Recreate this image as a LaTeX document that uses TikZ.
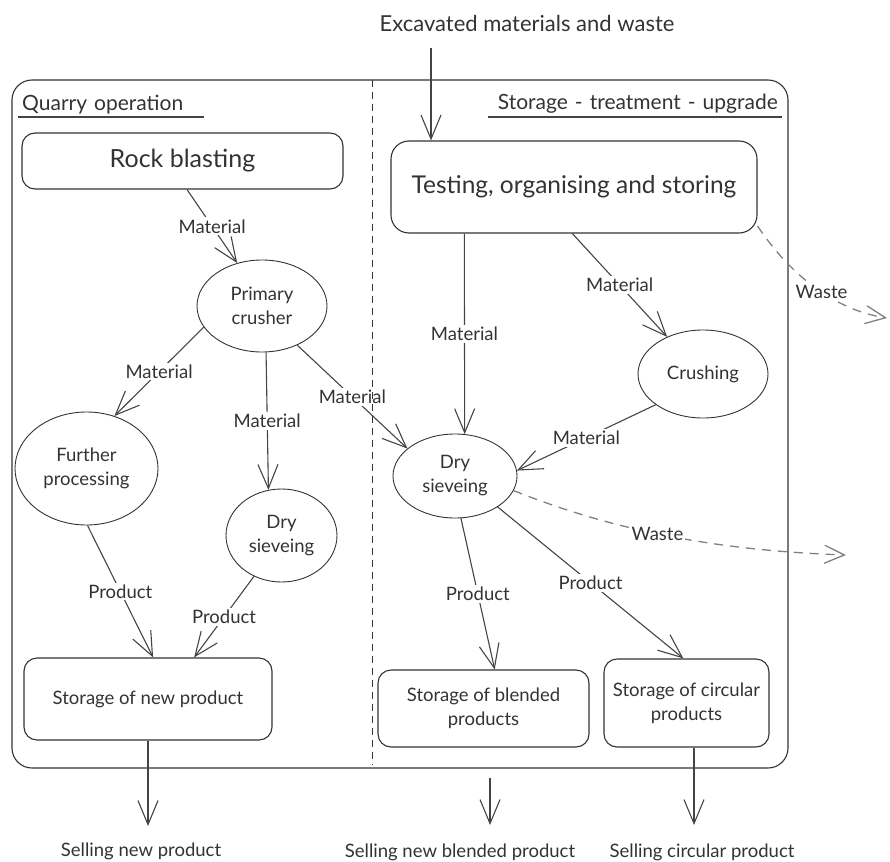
\documentclass[tikz,border=0pt]{standalone}
\usepackage{fontspec}
\setmainfont{Lato}
\usetikzlibrary{arrows.meta,shapes.geometric}
\definecolor{ink}{HTML}{333333}
\definecolor{edge}{HTML}{444444}
\definecolor{wastegray}{HTML}{808080}

\begin{document}
\begin{tikzpicture}
[x=1pt,y=-1pt,
box/.style={draw=ink,rounded corners=13pt,line width=1.1pt,inner sep=0pt,align=center,text=ink,font=\fontsize{18.5}{24}\selectfont},
oval/.style={ellipse,draw=ink,line width=0.9pt,inner sep=0pt,align=center,text=ink,font=\fontsize{18.5}{24}\selectfont},
lbl/.style={fill=white,inner sep=2pt,text=ink,font=\fontsize{18.5}{21}\selectfont},
ttl/.style={inner ysep=3pt,inner xsep=4pt,text=ink,font=\fontsize{21}{25}\selectfont},
flow/.style={draw=edge,line width=1.1pt,-{Straight Barb[length=24pt,width=20pt]}},
wasteflow/.style={draw=wastegray,line width=1.3pt,dash pattern=on 9pt off 7pt,-{Straight Barb[length=20pt,width=18pt]}}]
\useasboundingbox (0,0) rectangle (890,861);

\draw[ink,line width=1.1pt,rounded corners=20pt] (12,80) rectangle (788,768);

\node[ttl,anchor=south west,text width=178pt,align=left] (quarry) at (18,117) {Quarry operation};
\node[ttl,anchor=south east,text width=286pt,align=right] (treat) at (782,117) {Storage - treatment - upgrade};
\draw[edge,line width=1.2pt] (quarry.south west) -- (quarry.south east);
\draw[edge,line width=1.2pt] (treat.south west) -- (treat.south east);

\node[box,minimum width=321pt,minimum height=56pt,font=\fontsize{25}{30}\selectfont] (rock) at (182.5,161) {Rock blasting};
\node[box,minimum width=366pt,minimum height=92pt,rounded corners=18pt,font=\fontsize{24.5}{29}\selectfont] (test) at (574,187) {Testing, organising and storing};
\node[oval,minimum width=130pt,minimum height=92pt] (prim) at (262,306) {Primary\\crusher};
\node[oval,minimum width=143pt,minimum height=113pt] (furth) at (86.5,468.5) {Further\\processing};
\node[oval,minimum width=111pt,minimum height=93pt] (dryL) at (281.5,535.5) {Dry\\sieveing};
\node[oval,minimum width=124pt,minimum height=84pt] (dryR) at (455,476) {Dry\\sieveing};
\node[oval,minimum width=130pt,minimum height=88pt] (crush) at (703,374) {Crushing};
\node[box,minimum width=248pt,minimum height=82pt] (newst) at (148,699) {Storage of new product};
\node[box,minimum width=211pt,minimum height=77pt] (blend) at (483.5,708.5) {Storage of blended\\products};
\node[box,minimum width=165pt,minimum height=88pt] (circ) at (686.5,703) {Storage of circular\\products};

\node[lbl,font=\fontsize{22}{26}\selectfont] (excav) at (527,23) {Excavated materials and waste};
\node[lbl] (sellnew) at (141,851) {Selling new product};
\node[lbl] (sellblend) at (460,852) {Selling new blended product};
\node[lbl] (sellcirc) at (702,852) {Selling circular product};

\coordinate (excin) at (431,48);
\coordinate (newtip) at (148,826);
\coordinate (blendout) at (490,778);
\coordinate (blendtip) at (490,825);
\coordinate (circtip) at (694,825);
\coordinate (wastetop) at (887,318);
\coordinate (wastelow) at (846,555);

\draw[flow] (excin) -- (excin |- test.north);
\draw[flow] (rock.-81) -- node[lbl] {Material} (prim.120);
\draw[flow] (prim.200) -- node[lbl] {Material} (furth.62);
\draw[flow] (prim.-85) -- node[lbl] {Material} (dryL.106);
\draw[flow] (prim.-48) -- node[lbl] {Material} (dryR.150);
\draw[flow] (test.203) -- node[lbl] {Material} (dryR.77);
\draw[flow] (test.-92) -- node[lbl] {Material} (crush.134);
\draw[flow] (crush.213) -- node[lbl] {Material} (dryR.5);
\draw[flow] (dryR.-82) -- node[lbl] {Product} (blend.74);
\draw[flow] (dryR.-36) -- node[lbl] {Product} (circ.94);
\draw[flow] (furth.-89) -- node[lbl] {Product} (newst.83);
\draw[flow] (dryL.236) -- node[lbl] {Product} (newst.42);
\draw[flow] (newst.south) -- (newtip);
\draw[flow] (blendout) -- (blendtip);
\draw[flow] (circ.south -| circtip) -- (circtip);

\draw[wasteflow] (test.-12) .. controls (790,275) and (835,310) .. node[lbl,pos=0.55] {Waste} (wastetop);
\draw[wasteflow] (dryR.-14) .. controls (600,525) and (700,550) .. node[lbl] {Waste} (wastelow);

\draw[ink,line width=1pt,dash pattern=on 7pt off 5pt] (372,80) -- (372,765);
\end{tikzpicture}
\end{document}
